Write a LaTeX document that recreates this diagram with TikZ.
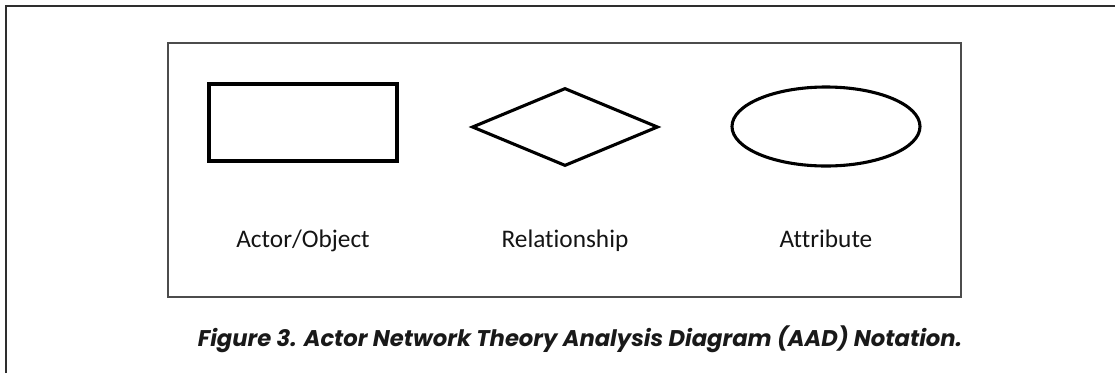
\documentclass[tikz,border=0pt]{standalone}
\usepackage{fontspec}
\setmainfont{Carlito}[Ligatures={NoCommon,NoDiscretionary,NoContextual}]
\newfontfamily\capfont{Poppins}
\usetikzlibrary{shapes.geometric}
\tikzset{
  shapeline/.style={draw=black, line width=4.4pt, inner sep=0pt},
  notelabel/.style={font=\fontsize{36}{42}\selectfont, text=black!92, anchor=base},
}

\begin{document}
\begin{tikzpicture}[x=0.5mm,y=-0.5mm]
	\useasboundingbox (0,0) rectangle (1115,373);
	% page frame
	\coordinate (fa) at (6,373);
	\coordinate (fb) at (6,6);
	\coordinate (fc) at (1115,6);
	\draw [line width=2.6pt, black!82] (fa) -- (fb) -- (fc);
	%
	\node [draw=black!70, line width=2.2pt, inner sep=0pt, minimum width=396.5mm, minimum height=127mm] (panel) at (564.5,170) {};
	%
	\node [shapeline, rectangle, minimum width=94mm, minimum height=38.5mm] (actor) at (303,122.5) {};
	\node [shapeline, diamond, minimum width=93mm, minimum height=39mm] (rel) at (565,127) {};
	\node [shapeline, ellipse, minimum width=94mm, minimum height=39.5mm] (attr) at (826,126.5) {};
	%
	\node [notelabel] (actorlbl) at (303,247) {Actor/Object};
	\node [notelabel] (rellbl) at (565,247) {Relationship};
	\node [notelabel] (attrlbl) at (826,247) {Attribute};
	%
	\node [anchor=base, text=black!90, font=\capfont\bfseries\itshape\fontsize{32.3}{38}\selectfont] (caption) at (580,346) {Figure 3. Actor Network Theory Analysis Diagram (AAD) Notation.};
\end{tikzpicture}
\end{document}
